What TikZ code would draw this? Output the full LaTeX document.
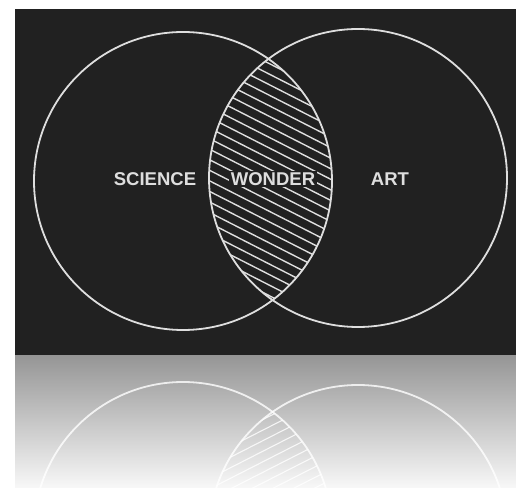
\documentclass[tikz,border=0pt]{standalone}
\usepackage{fontspec}
\setmainfont{Liberation Sans}
\usetikzlibrary{positioning}
\definecolor{board}{RGB}{33,33,33}
\definecolor{chalk}{RGB}{222,222,222}
\definecolor{mirrortop}{RGB}{150,150,150}
\definecolor{mirrorbot}{RGB}{247,247,247}

% the two rings and the hatched lens between them
% #1 left centre, #2 right centre, #3 lens centre, #4 hatch angle
\newcommand{\vennlines}[4]{%
  \begin{scope}
    \clip (#1) circle (149pt);
    \clip (#2) circle (149pt);
    \begin{scope}[shift={(#3)}, rotate=#4]
      \foreach \k in {-15,...,15}
        \draw[hatchline] (-170,\k*9.4) -- (170,\k*9.4);
    \end{scope}
  \end{scope}
  \draw[ring] (#1) circle (149pt);
  \draw[ring] (#2) circle (149pt);
}

\begin{document}
\begin{tikzpicture}[x=1pt, y=1pt,
    ring/.style={draw=chalk, line width=1.8pt},
    hatchline/.style={draw=chalk, line width=1.4pt},
    lbl/.style={font=\fontsize{18.5}{18.5}\selectfont\bfseries, text=chalk, inner sep=1.5pt}
  ]
  \useasboundingbox (0,0) rectangle (516,487);

  % blackboard and its mirror
  \fill[board] (15,131) rectangle (516,478);
  \shade[top color=mirrortop, bottom color=mirrorbot] (15,0) rectangle (516,131);

  \coordinate (lc) at (183,306);
  \coordinate (rc) at (358,309);
  \coordinate (lens) at (270,307);
  \vennlines{lc}{rc}{lens}{-27}

  \node[lbl]              (science) at (155,308) {SCIENCE};
  \node[lbl, fill=board]  (wonder)  at (273,308) {WONDER};
  \node[lbl]              (art)     at (390,308) {ART};

  % reflection, mirrored about the board's lower edge
  \coordinate (lcm) at (183,-44);
  \coordinate (rcm) at (358,-47);
  \coordinate (lensm) at (270,-45);
  \begin{scope}[opacity=0.8,
      ring/.style={draw=white, line width=1.8pt},
      hatchline/.style={draw=white, line width=1.1pt}]
    \clip (15,0) rectangle (516,131);
    \vennlines{lcm}{rcm}{lensm}{27}
  \end{scope}
\end{tikzpicture}
\end{document}
